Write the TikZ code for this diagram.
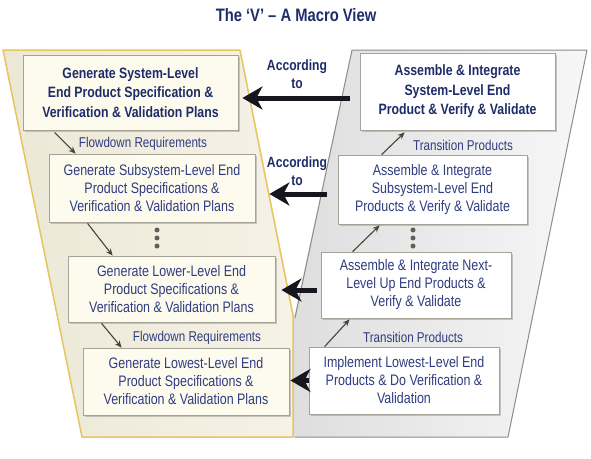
\documentclass[tikz,border=0pt]{standalone}
\usepackage{fontspec}
\setmainfont{Liberation Sans}[FakeStretch=0.82]
\usetikzlibrary{arrows.meta,shadows}
\definecolor{navy}{RGB}{30,45,105}
\definecolor{navyreg}{RGB}{48,60,128}
\definecolor{panelL}{RGB}{236,232,214}
\definecolor{panelLr}{RGB}{245,242,230}
\definecolor{panelLborder}{RGB}{232,196,96}
\definecolor{panelR}{RGB}{222,222,222}
\definecolor{panelRr}{RGB}{247,247,247}
\definecolor{panelRborder}{RGB}{140,140,140}
\definecolor{cream}{RGB}{253,251,238}
\definecolor{boxborder}{RGB}{165,163,152}
\definecolor{bigarrow}{RGB}{22,22,30}
\definecolor{smallarrow}{RGB}{70,68,62}
\begin{document}
\begin{tikzpicture}[x=1pt,y=-1pt,
  boxL/.style={draw=boxborder, fill=cream, line width=0.8pt, align=center, inner sep=0pt,
    drop shadow={shadow xshift=1.5pt, shadow yshift=-1.8pt, opacity=0.4}},
  boxR/.style={boxL, fill=white},
  bld/.style={font=\fontsize{15}{19.5}\selectfont\bfseries, text=navy},
  reg/.style={font=\fontsize{15.2}{18}\selectfont, text=navyreg},
  lbl/.style={font=\fontsize{14.2}{16}\selectfont, text=navyreg, inner sep=0pt},
  accl/.style={font=\fontsize{14.8}{18}\selectfont\bfseries, text=navy, align=center, inner sep=0pt},
  bigarr/.style={draw=bigarrow, line width=5pt, -{Stealth[length=20pt,width=23pt,inset=6pt]}},
  smallarr/.style={draw=smallarrow, line width=1.1pt, -{Stealth[length=7pt,width=6pt]}},
  dotstyle/.style={circle, fill=smallarrow!85, inner sep=0pt, minimum size=5pt}
]
\useasboundingbox (0,0) rectangle (591,458);
\fill[white] (0,0) rectangle (591,458);

% title
\node[font=\fontsize{18}{20}\selectfont\bfseries, text=navy] (title) at (296,15) {The ‘V’ – A Macro View};

% panels
\shade[left color=panelL, right color=panelLr] (3,50) -- (240,50) -- (293,315) -- (293,437) -- (82,437) -- cycle;
\draw[panelLborder, line width=1.5pt, line join=round] (3,50) -- (240,50) -- (293,315) -- (293,437) -- (82,437) -- cycle;
\shade[left color=panelR, right color=panelRr] (352,50) -- (587,50) -- (508,437) -- (294,437) -- (294,318) -- cycle;
\draw[panelRborder, line width=1pt, line join=round] (352,50) -- (587,50) -- (508,437) -- (294.5,437);
\draw[panelRborder, line width=1pt] (352,50) -- (295,318);

% left boxes
\node[boxL, bld, minimum width=215pt, minimum height=75pt] (L1) at (130.5,92.5)
  {Generate System-Level\\End Product Specification \&\\Verification \& Validation Plans};
\node[boxL, reg, minimum width=206pt, minimum height=68pt] (L2) at (152,188)
  {Generate Subsystem-Level End\\Product Specifications \&\\Verification \& Validation Plans};
\node[boxL, reg, minimum width=207pt, minimum height=66pt] (L3) at (171.5,289)
  {Generate Lower-Level End\\Product Specifications \&\\Verification \& Validation Plans};
\node[boxL, reg, minimum width=206pt, minimum height=67pt] (L4) at (186,381.5)
  {Generate Lowest-Level End\\Product Specifications \&\\Verification \& Validation Plans};

% right boxes
\node[boxR, bld, minimum width=195pt, minimum height=77pt] (R1) at (457.5,91.5)
  {Assemble \& Integrate\\System-Level End\\Product \& Verify \& Validate};
\node[boxR, reg, minimum width=189pt, minimum height=69pt] (R2) at (432.5,189.5)
  {Assemble \& Integrate\\Subsystem-Level End\\Products \& Verify \& Validate};
\node[boxR, reg, minimum width=190pt, minimum height=66pt] (R3) at (416,285)
  {Assemble \& Integrate Next-\\Level Up End Products \&\\Verify \& Validate};
\node[boxR, reg, minimum width=190pt, minimum height=67pt] (R4) at (404,380.5)
  {Implement Lowest-Level End\\Products \& Do Verification \&\\Validation};

% labels
\node[lbl] (F1) at (143,144) {Flowdown Requirements};
\node[lbl] (F2) at (197,338) {Flowdown Requirements};
\node[lbl] (T1) at (463,145) {Transition Products};
\node[lbl] (T2) at (413,337) {Transition Products};
\node[accl] (A1) at (297,74) {According\\to};
\node[accl] (A2) at (297,171) {According\\to};

% dots
\node[dotstyle] (dl1) at (157,230) {};
\node[dotstyle] (dl2) at (157,238) {};
\node[dotstyle] (dl3) at (157,246) {};
\node[dotstyle] (dr1) at (413,230) {};
\node[dotstyle] (dr2) at (413,238) {};
\node[dotstyle] (dr3) at (413,246) {};

% small arrows
\draw[smallarr] ([xshift=32pt,yshift=-2pt]L1.south west) -- ([xshift=27pt]L2.north west);
\draw[smallarr] ([xshift=39pt,yshift=-1pt]L2.south west) -- ([xshift=45pt]L3.north west);
\draw[smallarr] ([xshift=34pt,yshift=-1pt]L3.south west) -- ([xshift=39pt]L4.north west);
\draw[smallarr] ([xshift=44pt]R2.north west) -- ([xshift=45pt,yshift=-2pt]R1.south west);
\draw[smallarr] ([xshift=32pt]R3.north west) -- ([xshift=42pt,yshift=-1pt]R2.south west);
\draw[smallarr] ([xshift=16pt]R4.north west) -- ([xshift=29pt,yshift=-1pt]R3.south west);

% big arrows
\draw[bigarr, shorten <=10pt, shorten >=4pt] ([yshift=-6.5pt]R1.west) -- ([yshift=-6.5pt]R1.west -| L1.east);
\draw[bigarr, shorten <=11pt, shorten >=14pt] ([yshift=-4.5pt]R2.west) -- ([yshift=-4.5pt]R2.west -| L2.east);
\draw[bigarr, shorten <=4pt, shorten >=6pt] ([yshift=-5pt]R3.west) -- ([yshift=-5pt]R3.west -| L3.east);
\draw[bigarr, shorten <=0pt, shorten >=1pt] (R4.west) -- (R4.west -| L4.east);
\end{tikzpicture}
\end{document}
